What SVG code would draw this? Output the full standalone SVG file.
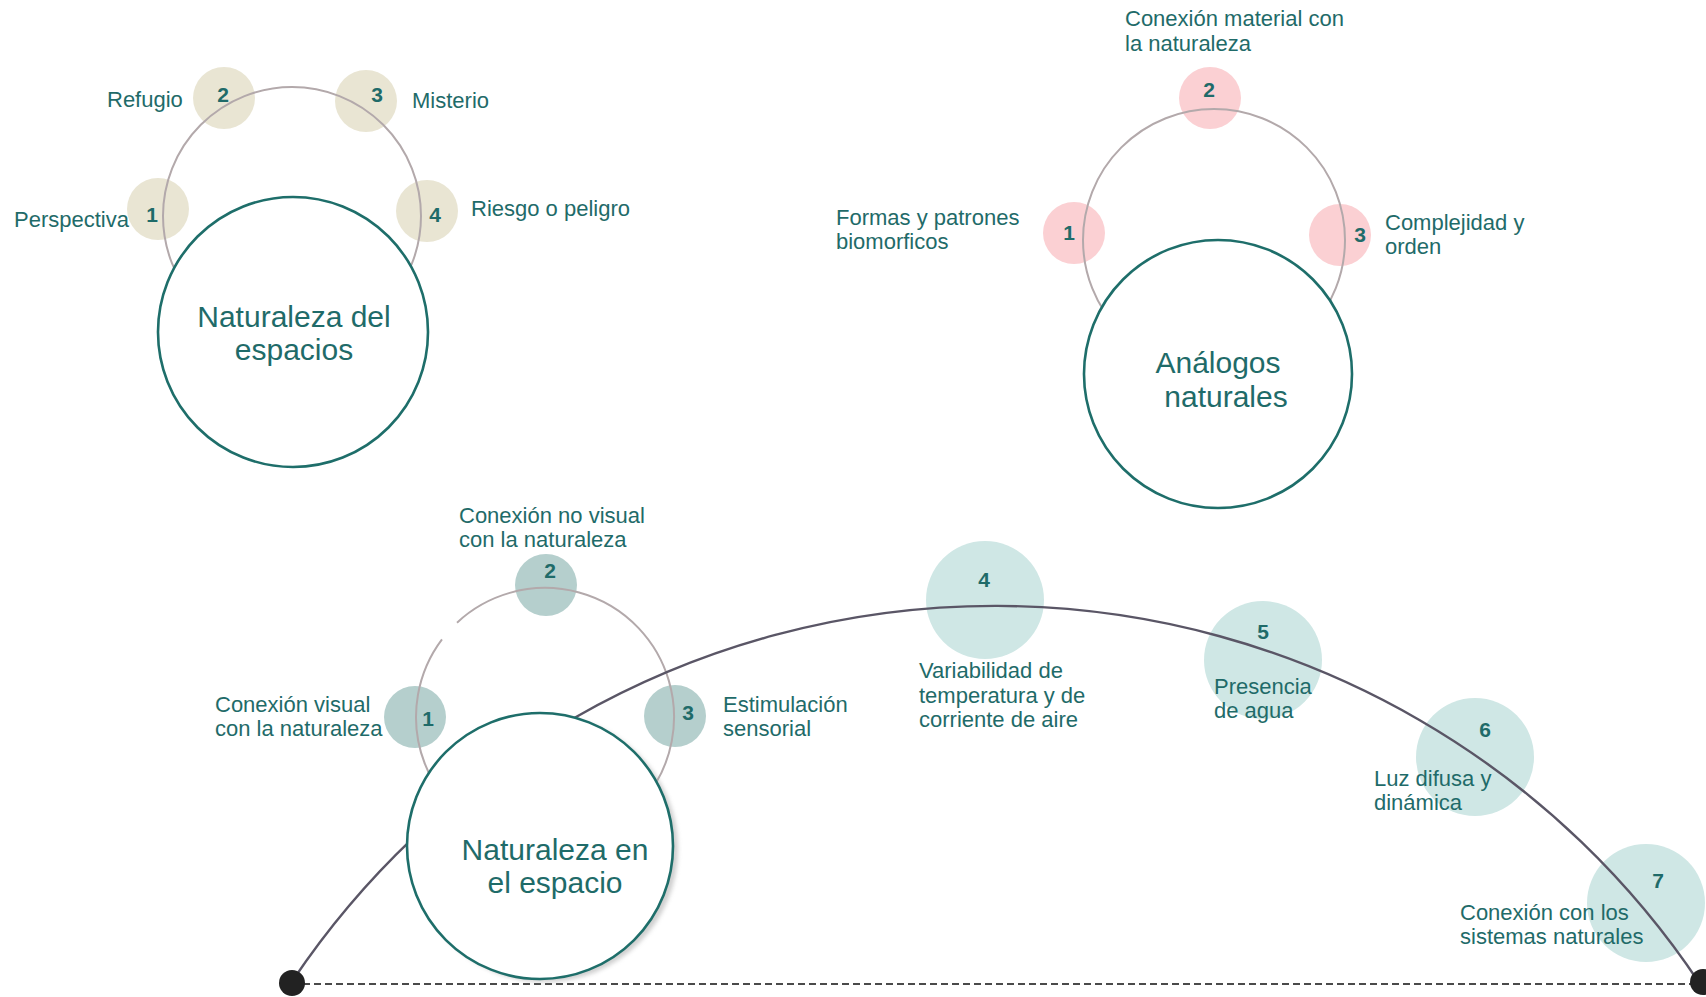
<svg xmlns="http://www.w3.org/2000/svg" width="1706" height="997" viewBox="0 0 1706 997">
<style>
text { font-family: "Liberation Sans", Arial, sans-serif; fill: #1f6b69; }
.lbl { font-size: 22px; }
.num { font-size: 21px; font-weight: bold; text-anchor: middle; }
.ttl { font-size: 30px; text-anchor: middle; }
.big { fill: #ffffff; stroke: #1e6e6a; stroke-width: 2.6; }
.ring { fill: none; stroke: #b3a9ab; stroke-width: 2; }
.beige { fill: #e9e5d3; }
.pink { fill: #fbd0d3; }
.tealD { fill: #b5cfcd; }
.tealL { fill: #cfe7e5; }
.arc { fill: none; stroke: #5a5666; stroke-width: 2.4; }
.dash { fill: none; stroke: #4a4a4a; stroke-width: 2.2; stroke-dasharray: 7 4; }
.dot { fill: #222222; }
</style>
<defs>
<filter id="shadow" x="-20%" y="-20%" width="140%" height="140%">
<feGaussianBlur stdDeviation="2"/>
</filter>
</defs>
<rect width="1706" height="997" fill="#ffffff"/>

<g id="group-naturaleza-del-espacios">
<g id="tl-1"><circle class="beige" cx="158" cy="209" r="31"/></g>
<g id="tl-2"><circle class="beige" cx="224" cy="98" r="31"/></g>
<g id="tl-3"><circle class="beige" cx="366" cy="101" r="31"/></g>
<g id="tl-4"><circle class="beige" cx="427" cy="211" r="31"/></g>
<circle class="ring" cx="292" cy="216" r="129"/>
</g>

<g id="group-analogos">
<g id="tr-1"><circle class="pink" cx="1074" cy="233" r="31"/></g>
<g id="tr-2"><circle class="pink" cx="1210" cy="98" r="31"/></g>
<g id="tr-3"><circle class="pink" cx="1340" cy="235" r="31"/></g>
<circle class="ring" cx="1214" cy="240" r="131"/>
</g>

<g id="group-naturaleza-en-el-espacio">
<g id="b-1"><circle class="tealD" cx="415" cy="717" r="31"/></g>
<g id="b-2"><circle class="tealD" cx="546" cy="585" r="31"/></g>
<g id="b-3"><circle class="tealD" cx="675" cy="716" r="31"/></g>
<g id="b-4"><circle class="tealL" cx="985" cy="600" r="59"/></g>
<g id="b-5"><circle class="tealL" cx="1263" cy="660" r="59"/></g>
<g id="b-6"><circle class="tealL" cx="1475" cy="757" r="59"/></g>
<g id="b-7"><circle class="tealL" cx="1646" cy="903" r="59"/></g>
<path class="ring" d="M 457.02 622.65 A 129 129 0 1 1 441.98 639.37"/>
</g>

<g id="connectors">
<line class="dash" x1="292" y1="984" x2="1703" y2="984"/>
<path class="arc" d="M 293 980 A 846 846 0 0 1 1700 984"/>
<circle class="dot" cx="292" cy="983" r="13"/>
<circle class="dot" cx="1703" cy="982" r="13"/>
</g>

<g id="node-naturaleza-del-espacios">
<circle class="big" cx="293" cy="332" r="135"/>
<text class="ttl" x="294" y="327">Naturaleza del</text>
<text class="ttl" x="294" y="360">espacios</text>
</g>

<g id="node-analogos-naturales">
<circle class="big" cx="1218" cy="374" r="134"/>
<text class="ttl" x="1218" y="373">Análogos</text>
<text class="ttl" x="1226" y="407">naturales</text>
</g>

<g id="node-naturaleza-en-el-espacio">
<circle cx="545" cy="849" r="133" fill="#a0a0a0" opacity="0.5" filter="url(#shadow)"/>
<circle class="big" cx="540" cy="846" r="133"/>
<text class="ttl" x="555" y="860">Naturaleza en</text>
<text class="ttl" x="555" y="893">el espacio</text>
</g>

<g id="labels-top-left">
<text class="num" x="152" y="222">1</text>
<text class="num" x="223" y="102">2</text>
<text class="num" x="377" y="102">3</text>
<text class="num" x="435" y="222">4</text>
<text class="lbl" x="107" y="107">Refugio</text>
<text class="lbl" x="412" y="108">Misterio</text>
<text class="lbl" x="14" y="227">Perspectiva</text>
<text class="lbl" x="471" y="216">Riesgo o peligro</text>
</g>

<g id="labels-top-right">
<text class="num" x="1209" y="97">2</text>
<text class="num" x="1069" y="240">1</text>
<text class="num" x="1360" y="242">3</text>
<text class="lbl" x="1125" y="26">Conexión material con</text>
<text class="lbl" x="1125" y="51">la naturaleza</text>
<text class="lbl" x="836" y="225">Formas y patrones</text>
<text class="lbl" x="836" y="249">biomorficos</text>
<text class="lbl" x="1385" y="230">Complejidad y</text>
<text class="lbl" x="1385" y="254">orden</text>
</g>

<g id="labels-bottom">
<text class="num" x="550" y="578">2</text>
<text class="num" x="428" y="726">1</text>
<text class="num" x="688" y="720">3</text>
<text class="num" x="984" y="587">4</text>
<text class="num" x="1263" y="639">5</text>
<text class="num" x="1485" y="737">6</text>
<text class="num" x="1658" y="888">7</text>
<text class="lbl" x="459" y="523">Conexión no visual</text>
<text class="lbl" x="459" y="547">con la naturaleza</text>
<text class="lbl" x="215" y="712">Conexión visual</text>
<text class="lbl" x="215" y="736">con la naturaleza</text>
<text class="lbl" x="723" y="712">Estimulación</text>
<text class="lbl" x="723" y="736">sensorial</text>
<text class="lbl" x="919" y="678">Variabilidad de</text>
<text class="lbl" x="919" y="703">temperatura y de</text>
<text class="lbl" x="919" y="727">corriente de aire</text>
<text class="lbl" x="1214" y="694">Presencia</text>
<text class="lbl" x="1214" y="718">de agua</text>
<text class="lbl" x="1374" y="786">Luz difusa y</text>
<text class="lbl" x="1374" y="810">dinámica</text>
<text class="lbl" x="1460" y="920">Conexión con los</text>
<text class="lbl" x="1460" y="944">sistemas naturales</text>
</g>
</svg>
